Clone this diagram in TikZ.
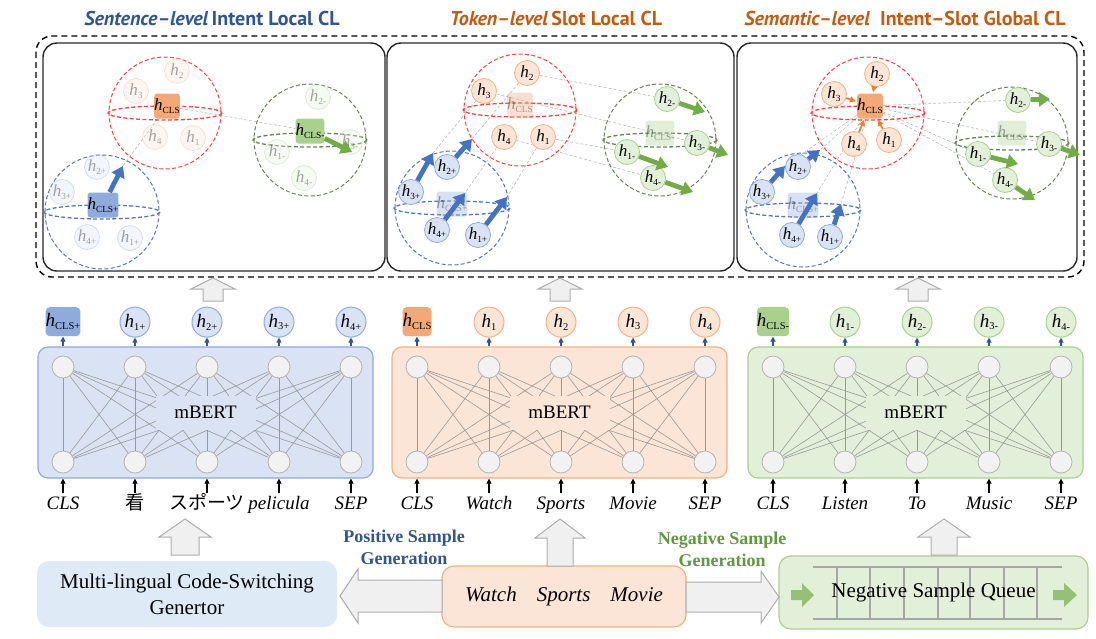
\documentclass[tikz,border=0pt]{standalone}
\usepackage{graphicx}
\usepackage{fontspec}
\setmainfont{Liberation Serif}
\newfontfamily\titlefont{PT Sans}
\newfontfamily\jpfont{Noto Sans CJK JP}
\usetikzlibrary{arrows.meta,positioning,backgrounds}

\definecolor{posfill}{HTML}{DAE3F3}
\definecolor{posline}{HTML}{8FAADC}
\definecolor{possq}{HTML}{8FAADC}
\definecolor{posdark}{HTML}{2F5597}
\definecolor{ancfill}{HTML}{FBE5D6}
\definecolor{ancline}{HTML}{F4B183}
\definecolor{ancsq}{HTML}{F4A777}
\definecolor{ancdark}{HTML}{C55A11}
\definecolor{negfill}{HTML}{E2F0D9}
\definecolor{negline}{HTML}{A9D18E}
\definecolor{negsq}{HTML}{A9D18E}
\definecolor{negdark}{HTML}{5E9A3C}
\definecolor{genfill}{HTML}{DEEBF7}
\definecolor{thickblue}{HTML}{4472C4}
\definecolor{thickgreen}{HTML}{70AD47}
\definecolor{thickorange}{HTML}{ED7D31}
\definecolor{sphgreen}{HTML}{4E6B3A}

\newcommand{\hlab}[1]{\textit{h}\raisebox{-0.3ex}{\scalebox{0.55}{#1}}}

\begin{document}
\begin{tikzpicture}[x=0.5pt,y=-0.5pt]

  \tikzstyle{unit} = [circle, draw=gray!60, fill=gray!10, minimum size=11pt, inner sep=0pt, line width=0.4pt]
  \tikzstyle{wire} = [gray!80, line width=0.3pt]
  \tikzstyle{mbert} = [rectangle, rounded corners=5pt, minimum width=167.5pt, minimum height=65.5pt, line width=0.6pt]
  \tikzstyle{hout} = [circle, minimum size=15pt, inner sep=0pt, line width=0.5pt, font=\fontsize{9.5}{10}\selectfont]
  \tikzstyle{hbox} = [rectangle, rounded corners=2pt, minimum size=14.5pt, inner sep=0pt, font=\fontsize{9.5}{10}\selectfont]
  \tikzstyle{hdot} = [circle, minimum size=12.5pt, inner sep=0pt, line width=0.4pt, font=\fontsize{8.5}{9}\selectfont]
  \tikzstyle{hsq} = [rectangle, rounded corners=1.5pt, minimum size=12.5pt, inner sep=0pt, font=\fontsize{8.5}{9}\selectfont]
  \tikzstyle{hpos} = [fill=posfill, draw=posline]
  \tikzstyle{hanc} = [fill=ancfill, draw=ancline]
  \tikzstyle{hneg} = [fill=negfill, draw=negline]
  \tikzstyle{faded} = [opacity=0.35]
  \tikzstyle{tok} = [font=\fontsize{9.5}{10}\selectfont\itshape, inner sep=1pt, text height=7pt, text depth=2pt]
  \tikzstyle{tinyarrow} = [-{Triangle[length=2.5pt,width=2.5pt]}, line width=0.6pt]
  \tikzstyle{fatblue} = [-{Triangle[length=5.5pt,width=7pt]}, line width=2.4pt, thickblue]
  \tikzstyle{fatgreen} = [-{Triangle[length=5.5pt,width=7pt]}, line width=2.4pt, thickgreen]
  \tikzstyle{pull} = [-{Triangle[length=3pt,width=3pt]}, line width=0.9pt, thickorange, shorten >=0.5pt]
  \tikzstyle{redsph} = [red!75, dash pattern=on 2pt off 1.2pt, line width=0.5pt]
  \tikzstyle{bluesph} = [posdark!80, dash pattern=on 2pt off 1.2pt, line width=0.5pt]
  \tikzstyle{greensph} = [sphgreen!85, dash pattern=on 2pt off 1.2pt, line width=0.5pt]
  \tikzstyle{link} = [gray!55, dash pattern=on 1.5pt off 1pt, line width=0.3pt]
  \tikzstyle{panel} = [rectangle, draw=black!85, rounded corners=7pt, line width=0.7pt, minimum height=114pt]
  \tikzstyle{cltitle} = [font=\titlefont\bfseries\fontsize{10}{12}\selectfont]
  \tikzstyle{bigarrow} = [fill=gray!12, draw=gray!65, line width=0.5pt]
  \tikzstyle{qarrow} = [fill=thickgreen!75]

  \useasboundingbox (0,0) rectangle (1096,638);

  % contrastive learning panels
  \draw[dash pattern=on 3pt off 2pt, line width=0.7pt, rounded corners=8pt] (36,36) rectangle (1084,277);
  \node[panel, minimum width=171pt] (sen) at (214,157) {};
  \node[panel, minimum width=173.5pt] (tok) at (560.5,157) {};
  \node[panel, minimum width=170pt] (sem) at (907,157) {};
  \node[cltitle, text=posdark] (sen-title) at (212,18) {\textit{Sentence–level}\,Intent Local CL};
  \node[cltitle, text=ancdark] (tok-title) at (556,18) {\textit{Token–level}\,Slot Local CL};
  \node[cltitle, text=ancdark] (sem-title) at (905,18) {\textit{Semantic–level}\ \ Intent–Slot Global CL};

  % sentence-level
  \coordinate (s-red) at (165,113);
  \coordinate (s-blue) at (102,212);
  \coordinate (s-green) at (310,140);
  \coordinate (s-tp) at (123,166);
  \coordinate (s-tn) at (352,152);
  \draw[redsph] (s-red) circle (56);
  \draw[redsph, line width=0.65pt] (s-red) ellipse (57 and 7);
  \draw[bluesph] (s-blue) circle (57);
  \draw[bluesph, line width=0.65pt] (s-blue) ellipse (58 and 7);
  \draw[greensph] (s-green) circle (56);
  \draw[greensph, line width=0.65pt] (s-green) ellipse (57 and 7);
  \node[hdot, hanc, faded] (s-h2) at (177,71) {\hlab{2}};
  \node[hdot, hanc, faded] (s-h3) at (136,91) {\hlab{3}};
  \node[hdot, hanc, faded] (s-h4) at (155,137) {\hlab{4}};
  \node[hdot, hanc, faded] (s-h1) at (193,138) {\hlab{1}};
  \node[hsq, fill=ancsq] (s-cls) at (167,106) {\hlab{CLS}};
  \node[hdot, hpos, faded] (s-p2) at (97,167) {\hlab{2+}};
  \node[hdot, hpos, faded] (s-p3) at (62,192) {\hlab{3+}};
  \node[hdot, hpos, faded] (s-p4) at (87,237) {\hlab{4+}};
  \node[hdot, hpos, faded] (s-p1) at (130,238) {\hlab{1+}};
  \node[hsq, fill=possq] (s-pcls) at (103,205) {\hlab{CLS+}};
  \node[hdot, hneg, faded] (s-n2) at (318,97) {\hlab{2-}};
  \node[hdot, hneg, faded] (s-n1) at (277,152) {\hlab{1-}};
  \node[hdot, hneg, faded] (s-n4) at (304,178) {\hlab{4-}};
  \node[hdot, hneg, faded] (s-n3) at (350,142) {\hlab{3-}};
  \node[hsq, fill=negsq] (s-ncls) at (310,131) {\hlab{CLS-}};
  \begin{scope}[on background layer]
    \draw[link] (s-cls) -- (s-tp);
    \draw[link] (s-cls) -- (s-ncls);
  \end{scope}
  \draw[fatblue] (s-pcls) -- (s-tp);
  \draw[fatgreen] (s-ncls) -- (s-tn);

  % token-level
  \coordinate (t-red) at (520,110);
  \coordinate (t-blue) at (452,208);
  \coordinate (t-green) at (660,140);
  \draw[redsph] (t-red) circle (56);
  \draw[redsph, line width=0.65pt] (t-red) ellipse (57 and 7);
  \draw[bluesph] (t-blue) circle (57);
  \draw[bluesph, line width=0.65pt] (t-blue) ellipse (58 and 7);
  \draw[greensph] (t-green) circle (56);
  \draw[greensph, line width=0.65pt] (t-green) ellipse (57 and 7);
  \node[hsq, fill=ancsq, faded] (t-cls) at (520,105) {\hlab{CLS}};
  \node[hdot, hanc] (t-h2) at (527,73) {\hlab{2}};
  \node[hdot, hanc] (t-h3) at (484,91) {\hlab{3}};
  \node[hdot, hanc] (t-h4) at (504,137) {\hlab{4}};
  \node[hdot, hanc] (t-h1) at (543,137) {\hlab{1}};
  \node[hsq, fill=possq, faded] (t-pcls) at (452,204) {\hlab{CLS+}};
  \node[hdot, hpos] (t-p2) at (447,167) {\hlab{2+}};
  \node[hdot, hpos] (t-p3) at (411,192) {\hlab{3+}};
  \node[hdot, hpos] (t-p4) at (437,230) {\hlab{4+}};
  \node[hdot, hpos] (t-p1) at (478,235) {\hlab{1+}};
  \node[hsq, fill=negsq, faded] (t-ncls) at (660,133) {\hlab{CLS-}};
  \node[hdot, hneg] (t-n2) at (667,99) {\hlab{2-}};
  \node[hdot, hneg] (t-n3) at (697,143) {\hlab{3-}};
  \node[hdot, hneg] (t-n1) at (627,152) {\hlab{1-}};
  \node[hdot, hneg] (t-n4) at (653,178) {\hlab{4-}};
  \coordinate (t-tp3) at (433,153);
  \coordinate (t-tp2) at (472,139);
  \coordinate (t-tp4) at (465,193);
  \coordinate (t-tp1) at (507,197);
  \coordinate (t-tn2) at (705,112);
  \coordinate (t-tn3) at (728,155);
  \coordinate (t-tn1) at (668,167);
  \coordinate (t-tn4) at (693,192);
  \begin{scope}[on background layer]
    \foreach \i in {1,...,4} {
      \draw[link] (t-h\i) -- (t-n\i);
      \draw[link] (t-h\i) -- (t-tp\i);
    }
  \end{scope}
  \foreach \i in {1,...,4} {
    \draw[fatblue] (t-p\i) -- (t-tp\i);
    \draw[fatgreen] (t-n\i) -- (t-tn\i);
  }

  % semantic-level
  \coordinate (m-red) at (868,113);
  \coordinate (m-blue) at (803,210);
  \coordinate (m-green) at (1012,143);
  \draw[redsph] (m-red) circle (56);
  \draw[redsph, line width=0.65pt] (m-red) ellipse (57 and 7);
  \draw[bluesph] (m-blue) circle (57);
  \draw[bluesph, line width=0.65pt] (m-blue) ellipse (58 and 7);
  \draw[greensph] (m-green) circle (56);
  \draw[greensph, line width=0.65pt] (m-green) ellipse (57 and 7);
  \node[hsq, fill=ancsq] (m-cls) at (870,106) {\hlab{CLS}};
  \node[hdot, hanc] (m-h2) at (877,74) {\hlab{2}};
  \node[hdot, hanc] (m-h3) at (834,94) {\hlab{3}};
  \node[hdot, hanc] (m-h4) at (854,144) {\hlab{4}};
  \node[hdot, hanc] (m-h1) at (889,140) {\hlab{1}};
  \node[hsq, fill=possq, faded] (m-pcls) at (803,205) {\hlab{CLS+}};
  \node[hdot, hpos] (m-p2) at (798,167) {\hlab{2+}};
  \node[hdot, hpos] (m-p3) at (762,192) {\hlab{3+}};
  \node[hdot, hpos] (m-p4) at (792,235) {\hlab{4+}};
  \node[hdot, hpos] (m-p1) at (830,237) {\hlab{1+}};
  \node[hsq, fill=negsq, faded] (m-ncls) at (1012,133) {\hlab{CLS-}};
  \node[hdot, hneg] (m-n2) at (1018,100) {\hlab{2-}};
  \node[hdot, hneg] (m-n3) at (1049,144) {\hlab{3-}};
  \node[hdot, hneg] (m-n1) at (978,154) {\hlab{1-}};
  \node[hdot, hneg] (m-n4) at (1005,180) {\hlab{4-}};
  \coordinate (m-tp3) at (785,166);
  \coordinate (m-tp2) at (820,150);
  \coordinate (m-tp4) at (817,193);
  \coordinate (m-tp1) at (841,204);
  \coordinate (m-tn2) at (1050,99);
  \coordinate (m-tn3) at (1080,155);
  \coordinate (m-tn1) at (1018,164);
  \coordinate (m-tn4) at (1035,200);
  \begin{scope}[on background layer]
    \foreach \i in {1,...,4} {
      \draw[link] (m-cls) -- (m-n\i);
      \draw[link] (m-cls) -- (m-tp\i);
    }
  \end{scope}
  \foreach \i in {1,...,4} {
    \draw[pull] (m-h\i) -- (m-cls);
    \draw[fatblue] (m-p\i) -- (m-tp\i);
    \draw[fatgreen] (m-n\i) -- (m-tn\i);
  }

  % mBERT encoders
  \foreach \blk/\lft in {pos/38, anc/392, neg/748} {
    \node[mbert, fill=\blk fill, draw=\blk line] (\blk-box) at (\lft+167.5,412.5) {};
    \foreach \i in {1,...,5} {
      \node[unit] (\blk-t\i) at (\lft+25+72*\i-72,367) {};
      \node[unit] (\blk-b\i) at (\lft+25+72*\i-72,462) {};
    }
    \foreach \i in {1,...,5}
      \foreach \j in {1,...,5}
        \draw[wire] (\blk-b\i) -- (\blk-t\j);
    \node[fill=\blk fill, minimum width=50pt, minimum height=17pt, font=\fontsize{9.5}{10}\selectfont] (\blk-lab) at (\blk-box) {mBERT};
  }

  % encoder outputs
  \node[hbox, fill=possq, above=9.5pt of pos-t1] (pos-o1) {\hlab{CLS+}};
  \foreach \i/\s in {2/1+,3/2+,4/3+,5/4+}
    \node[hout, hpos, above=9pt of pos-t\i] (pos-o\i) {\hlab{\s}};
  \node[hbox, fill=ancsq, above=9.5pt of anc-t1] (anc-o1) {\hlab{CLS}};
  \foreach \i/\s in {2/1,3/2,4/3,5/4}
    \node[hout, hanc, above=9pt of anc-t\i] (anc-o\i) {\hlab{\s}};
  \node[hbox, fill=negsq, above=9.5pt of neg-t1] (neg-o1) {\hlab{CLS-}};
  \foreach \i/\s in {2/1-,3/2-,4/3-,5/4-}
    \node[hout, hneg, above=9pt of neg-t\i] (neg-o\i) {\hlab{\s}};

  % input tokens
  \foreach \i/\w in {1/CLS,2/{\jpfont 看},3/{\jpfont スポーツ},4/pelicula,5/SEP}
    \node[tok, below=10pt of pos-b\i] (pos-w\i) {\w};
  \foreach \i/\w in {1/CLS,2/Watch,3/Sports,4/Movie,5/SEP}
    \node[tok, below=10pt of anc-b\i] (anc-w\i) {\w};
  \foreach \i/\w in {1/CLS,2/Listen,3/To,4/Music,5/SEP}
    \node[tok, below=10pt of neg-b\i] (neg-w\i) {\w};

  \foreach \blk in {pos, anc, neg}
    \foreach \i in {1,...,5} {
      \draw[tinyarrow, posdark] (\blk-o\i.south |- \blk-box.north) -- (\blk-o\i.south);
      \draw[tinyarrow] (\blk-w\i.north) -- (\blk-w\i.north |- \blk-box.south);
    }

  % encoders to panels
  \foreach \cx in {213,560,918}
    \draw[bigarrow] (\cx-10,301) -- (\cx-10,289) -- (\cx-22,289) -- (\cx,278) -- (\cx+22,289) -- (\cx+10,289) -- (\cx+10,301) -- cycle;

  % sample generation
  \node[rectangle, rounded corners=6pt, fill=genfill, minimum width=150pt, minimum height=33pt, align=center, font=\fontsize{10.5}{13}\selectfont] (gen) at (187,594) {Multi-lingual Code-Switching\\Genertor};
  \node[rectangle, rounded corners=6pt, fill=ancfill, draw=ancline, line width=0.6pt, minimum width=122pt, minimum height=30.5pt, font=\fontsize{10.5}{12}\selectfont\itshape] (watch) at (564,596.5) {Watch\hspace{10pt}Sports\hspace{10pt}Movie};
  \node[rectangle, rounded corners=6pt, fill=negfill, draw=negline, line width=0.6pt, minimum width=154.5pt, minimum height=36.5pt] (queue) at (933.5,592.5) {};
  \draw[gray!70, line width=0.8pt] (813,567) -- (1062,567) (813,619) -- (1062,619);
  \foreach \qx in {837,870,904,938,970,1004,1037}
    \draw[gray!70, line width=0.8pt] (\qx,567) -- (\qx,619);
  \fill[qarrow] (791,590) -- (802,590) -- (802,583) -- (814,595) -- (802,607) -- (802,600) -- (791,600) -- cycle;
  \fill[qarrow] (1053,590) -- (1064,590) -- (1064,583) -- (1077,595) -- (1064,607) -- (1064,600) -- (1053,600) -- cycle;
  \node[font=\fontsize{10.5}{12}\selectfont] (queue-lab) at (queue) {Negative Sample Queue};

  \draw[bigarrow] (442,580) -- (358,580) -- (358,569) -- (340,596) -- (358,623) -- (358,612) -- (442,612) -- cycle;
  \draw[bigarrow] (686,582) -- (761,582) -- (761,571) -- (779,597) -- (761,623) -- (761,612) -- (686,612) -- cycle;
  \node[align=center, text=posdark, font=\fontsize{9}{11}\selectfont\bfseries] (pos-gen) at (404,547) {Positive Sample\\Generation};
  \node[align=center, text=negdark, font=\fontsize{9}{11}\selectfont\bfseries] (neg-gen) at (722,549) {Negative Sample\\Generation};

  \draw[bigarrow] (171,555) -- (171,537) -- (159,537) -- (185,519) -- (211,537) -- (199,537) -- (199,555) -- cycle;
  \draw[bigarrow] (547,566) -- (547,538) -- (535,538) -- (560,519) -- (585,538) -- (573,538) -- (573,566) -- cycle;
  \draw[bigarrow] (931,555) -- (931,537) -- (918,537) -- (944,519) -- (970,537) -- (957,537) -- (957,555) -- cycle;

\end{tikzpicture}
\end{document}
